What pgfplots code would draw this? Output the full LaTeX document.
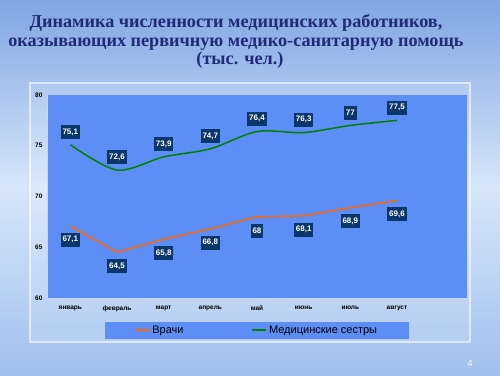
\documentclass[border=0pt]{standalone}
\usepackage{pgfplots}
\pgfplotsset{compat=1.18}
\usepackage{fontspec}
\setmainfont{Liberation Serif}
\newfontfamily\arial{Liberation Sans}
\definecolor{bgtop}{RGB}{128,166,228}
\definecolor{bgmid}{RGB}{215,230,249}
\definecolor{bgbot}{RGB}{160,192,238}
\definecolor{plotblue}{RGB}{92,142,245}
\definecolor{lblnavy}{RGB}{10,55,105}
\definecolor{titleblue}{RGB}{32,42,120}
\definecolor{orng}{RGB}{255,102,0}
\definecolor{grn}{RGB}{0,128,0}
\begin{document}
\begin{tikzpicture}[x=1pt,y=1pt]
\shade[top color=bgtop, bottom color=bgbot, middle color=bgmid] (0,0) rectangle (500,375);
\useasboundingbox (0,0) rectangle (500,375);
\draw[white, draw opacity=0.6, line width=1.5pt, fill=white, fill opacity=0.12] (30,33) rectangle (470,292);
\node[anchor=base, text=titleblue, font=\bfseries\fontsize{18.2}{19}\selectfont] at (236,347) {Динамика численности медицинских работников,};
\node[anchor=base, text=titleblue, font=\bfseries\fontsize{18.2}{19}\selectfont] at (236,328) {оказывающих первичную медико-санитарную помощь};
\node[anchor=base, text=titleblue, font=\bfseries\fontsize{18.2}{19}\selectfont] at (240,310) {(тыс. чел.)};
\node[text=white, font=\arial\fontsize{9}{10}\selectfont] at (470,12) {4};
\begin{axis}[
  at={(47pt,77pt)}, anchor=south west, scale only axis,
  width=420pt, height=203pt,
  xmin=-0.5, xmax=8.5, ymin=60, ymax=80,
  axis background/.style={fill=plotblue},
  axis lines*=left,
  axis line style={-, draw=white!65!plotblue, line width=1pt},
  xtick={0,...,7},
  xticklabels={январь,февраль,март,апрель,май,июнь,июль,август},
  x tick label style={font=\arial\bfseries\fontsize{6.5}{7}\selectfont, yshift=-4pt},
  major x tick style={draw=none},
  extra x ticks={0.5,1.5,...,7.5},
  extra x tick labels={},
  extra x tick style={major tick length=3pt, tick style={draw=white!65!plotblue, line width=0.8pt}, tick align=outside},
  ytick={60,65,70,75,80},
  y tick label style={font=\arial\bfseries\fontsize{6.5}{7}\selectfont, xshift=-1pt},
  major y tick style={draw=none},
  /pgf/number format/assume math mode=true,
  /pgf/number format/use comma,
  legend style={at={(0.5,-0.158)}, anchor=center, fill=plotblue, draw=none,
    font=\arial\fontsize{11}{12}\selectfont, inner xsep=30pt, inner ysep=2pt,
    /tikz/every even column/.append style={column sep=66pt}},
  legend columns=2,
  legend image code/.code={\draw[#1] (0pt,0pt) -- (14pt,0pt);},
  every node near coord/.append style={font=\arial\bfseries\fontsize{8}{9}\selectfont, text=white, fill=lblnavy, inner xsep=2pt, inner ysep=1pt, minimum height=14pt},
]
\addplot[orng, line width=1.5pt, nodes near coords={\pgfmathprintnumber{\pgfplotspointmeta}},
  every node near coord/.append style={anchor=north, yshift=-6pt}]
  coordinates {(0,67.1) (1,64.5) (2,65.8) (3,66.8) (4,68) (5,68.1) (6,68.9) (7,69.6)};
\addlegendentry{Врачи}
\addplot[grn, line width=1.5pt, smooth, nodes near coords={\pgfmathprintnumber{\pgfplotspointmeta}},
  every node near coord/.append style={anchor=south, yshift=5pt}]
  coordinates {(0,75.1) (1,72.6) (2,73.9) (3,74.7) (4,76.4) (5,76.3) (6,77) (7,77.5)};
\addlegendentry{Медицинские сестры}
\end{axis}
\end{tikzpicture}
\end{document}
